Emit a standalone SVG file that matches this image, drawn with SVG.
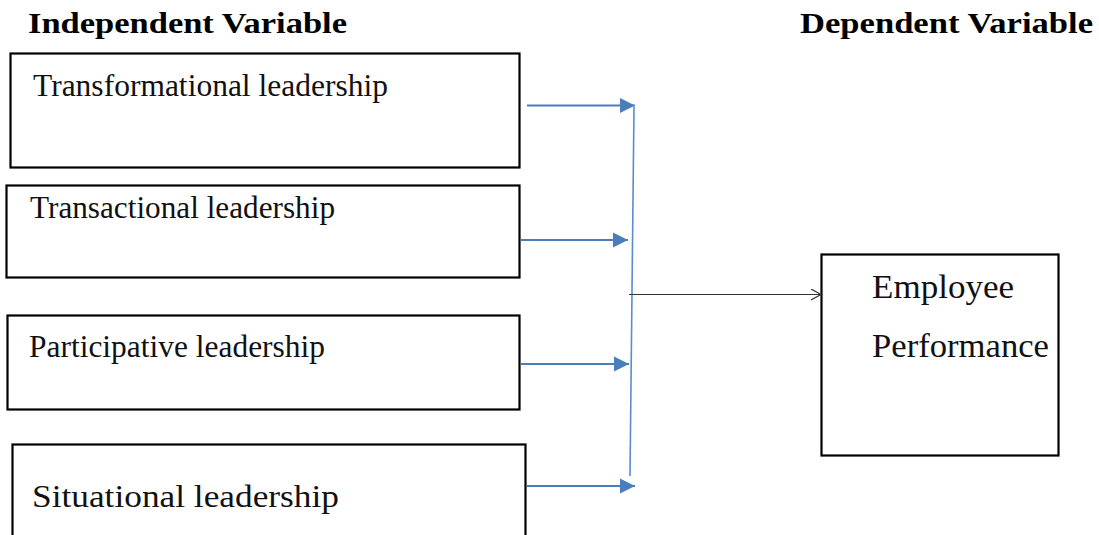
<svg xmlns="http://www.w3.org/2000/svg" width="1099" height="535" viewBox="0 0 1099 535">
<style>
.box{fill:#fff;stroke:#000;stroke-width:2.2}
.blue{stroke:#4a7ebb;stroke-width:2.2;fill:none}
.vline{stroke:#5b8bd0;stroke-width:1.6;fill:none}
.blk{stroke:#333;stroke-width:1.2;fill:none}
</style>
<defs>
<marker id="tri" markerUnits="userSpaceOnUse" markerWidth="16" markerHeight="16" refX="15" refY="8" orient="auto">
<path d="M0,0.5 L15,8 L0,15.5 Z" fill="#4a7ebb"/>
</marker>
<marker id="open" markerUnits="userSpaceOnUse" markerWidth="12" markerHeight="12" refX="10" refY="6" orient="auto">
<path d="M0,0.5 L10,6 L0,11.5" fill="none" stroke="#333" stroke-width="1.2"/>
</marker>
</defs>
<g font-family="Liberation Serif, serif" font-weight="bold" font-size="30" fill="#000">
<text x="28" y="33" textLength="319" lengthAdjust="spacingAndGlyphs">Independent Variable</text>
<text x="800" y="33" textLength="293" lengthAdjust="spacingAndGlyphs">Dependent Variable</text>
</g>
<g font-family="Liberation Serif, serif" font-size="31.5" fill="#111">
<g id="transformational">
<rect class="box" x="10.5" y="53.5" width="509" height="114"/>
<text x="33" y="96" textLength="355" lengthAdjust="spacingAndGlyphs">Transformational leadership</text>
</g>
<g id="transactional">
<rect class="box" x="6.5" y="185.5" width="513" height="92"/>
<text x="30" y="218" textLength="305" lengthAdjust="spacingAndGlyphs">Transactional leadership</text>
</g>
<g id="participative">
<rect class="box" x="7.5" y="315.5" width="512" height="94"/>
<text x="29" y="357" textLength="296" lengthAdjust="spacingAndGlyphs">Participative leadership</text>
</g>
<g id="situational">
<rect class="box" x="12.5" y="444.5" width="513" height="100"/>
<text x="32" y="507" textLength="307" lengthAdjust="spacingAndGlyphs">Situational leadership</text>
</g>
<g id="employee">
<rect class="box" x="821.5" y="254.5" width="237" height="201"/>
<text x="872" y="298" font-size="33" textLength="142" lengthAdjust="spacingAndGlyphs">Employee</text>
<text x="872" y="357" font-size="33" textLength="177" lengthAdjust="spacingAndGlyphs">Performance</text>
</g>
</g>
<g id="connectors">
<line class="blue" x1="527" y1="105.5" x2="635" y2="105.5" marker-end="url(#tri)"/>
<line class="blue" x1="521" y1="240" x2="628" y2="240" marker-end="url(#tri)"/>
<line class="blue" x1="521" y1="364" x2="629" y2="364" marker-end="url(#tri)"/>
<line class="blue" x1="527" y1="486" x2="635" y2="486" marker-end="url(#tri)"/>
<line class="vline" x1="634" y1="107" x2="630" y2="476"/>
<line class="blk" x1="629" y1="294.5" x2="821" y2="294.5" marker-end="url(#open)"/>
</g>
</svg>
